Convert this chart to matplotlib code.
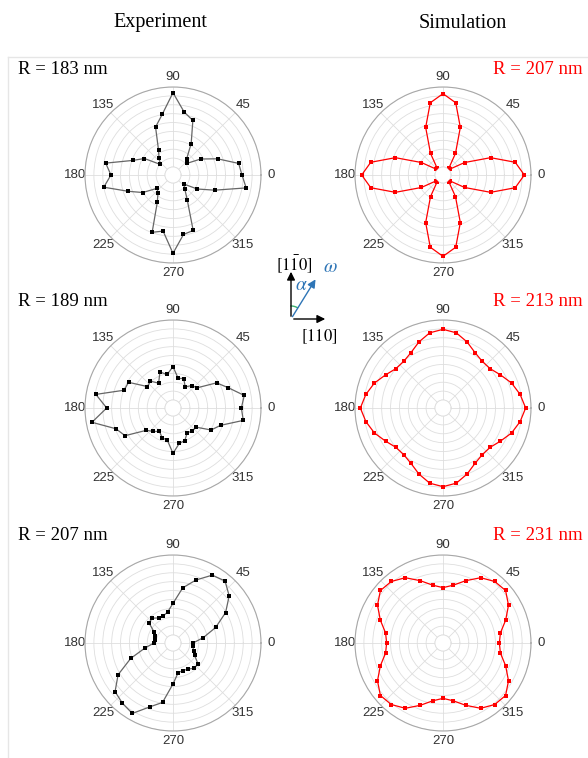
#! /usr/bin/env python3

#Polar plots of experiment vs simulation for three disk radii
import numpy as np
import matplotlib
matplotlib.use("Agg")
import matplotlib.pyplot as plt

plt.rcParams['font.family'] = ['Liberation Serif', 'DejaVu Serif']
plt.rcParams['mathtext.fontset'] = 'stix'

#Data: angle in degrees, intensity in arbitrary units (0 = inner edge, 9 = outer ring)
angles = np.arange(0, 360, 10)
theta_labels = ['0', '45', '90', '135', '180', '225', '270', '315']

exp_183 = [6.86, 6.60, 4.43, 2.70, 1.13, 1.50, 3.19, 5.63, 6.30, 8.36,
           6.04, 4.84, 2.36, 1.54, 0.94, 2.81, 3.90, 6.79, 6.08, 7.01,
           4.46, 3.04, 1.43, 1.73, 2.63, 5.96, 5.51, 7.91, 5.89, 5.74,
           2.29, 1.16, 0.68, 2.25, 4.09, 7.46]
sim_207 = [8.25, 7.35, 4.80, 1.91, 0.15, 0.15, 1.91, 4.80, 7.35,
           8.25, 7.35, 4.80, 1.91, 0.15, 0.15, 1.91, 4.80, 7.35,
           8.25, 7.35, 4.80, 1.91, 0.15, 0.15, 1.91, 4.80, 7.35,
           8.25, 7.35, 4.80, 1.91, 0.15, 0.15, 1.91, 4.80, 7.35]
exp_189 = [6.79, 7.24, 5.74, 4.76, 2.63, 2.40, 1.84, 2.63, 2.48, 3.75,
           2.93, 3.41, 2.33, 3.04, 2.85, 4.88, 4.95, 7.91, 6.56, 8.36,
           5.93, 5.33, 3.00, 2.55, 2.14, 2.66, 2.78, 4.20, 3.15, 3.00,
           2.29, 2.51, 2.44, 4.05, 4.80, 7.13]
sim_213 = [8.40, 7.91, 7.31, 6.56, 6.00, 5.96, 6.30, 7.01, 7.69,
           7.95, 7.69, 7.01, 6.30, 5.96, 6.00, 6.56, 7.31, 7.91,
           8.40, 7.91, 7.31, 6.56, 6.00, 5.96, 6.30, 7.01, 7.69,
           7.95, 7.69, 7.01, 6.30, 5.96, 6.00, 6.56, 7.31, 7.91]
exp_207 = [1.35, 2.55, 4.20, 5.93, 7.35, 8.21, 7.91, 6.64, 5.40, 3.56,
           2.63, 2.33, 2.36, 2.74, 2.63, 1.54, 1.24, 1.16, 1.24, 2.29,
           4.16, 6.23, 7.61, 7.95, 8.25, 6.75, 5.89, 3.71, 2.48, 2.40,
           2.48, 2.81, 2.78, 1.91, 1.58, 1.35]
sim_231 = [5.44, 5.66, 6.60, 7.61, 8.29, 8.14, 7.58, 6.56, 5.70,
           5.33, 5.70, 6.56, 7.58, 8.14, 8.29, 7.61, 6.60, 5.66,
           5.44, 5.66, 6.60, 7.61, 8.29, 8.14, 7.58, 6.56, 5.70,
           5.33, 5.70, 6.56, 7.58, 8.14, 8.29, 7.61, 6.60, 5.66]

W, H = 588, 758
fig = plt.figure(figsize=(W / 100, H / 100), dpi=100)

#Draws one polar panel centred at (cx, cy) in pixels
def polar_panel(cx, cy, values, marker_color, line_color):
    rad = 88
    ax = fig.add_axes([(cx - rad) / W, 1 - (cy + rad) / H, 2 * rad / W, 2 * rad / H],
                      projection='polar')
    th = np.deg2rad(np.append(angles, angles[0]))
    r = np.append(values, values[0])
    ax.plot(th, r, color=line_color, lw=0.9, marker='s', ms=2.9, mew=0,
            mfc=marker_color, mec=marker_color, zorder=3)
    ax.set_ylim(0, 9)
    ax.set_rorigin(-0.9)
    ax.set_rticks(np.arange(0, 10, 1))
    ax.set_yticklabels([])
    ax.set_thetagrids(range(0, 360, 45), labels=theta_labels,
                      fontsize=9.5, color='#333333', family='Liberation Sans')
    ax.tick_params(axis='x', pad=-3)
    ax.grid(color='#dedede', lw=0.6)
    ax.spines['polar'].set_color('#a8a8a8')
    ax.spines['polar'].set_linewidth(0.8)
    ax.spines['inner'].set_color('#dedede')
    ax.spines['inner'].set_linewidth(0.6)
    return ax

polar_panel(173, 175, exp_183, 'black', '#666666')
polar_panel(443, 175, sim_207, 'red', 'red')
polar_panel(173, 408, exp_189, 'black', '#666666')
polar_panel(443, 408, sim_213, 'red', 'red')
polar_panel(173, 643, exp_207, 'black', '#666666')
polar_panel(443, 643, sim_231, 'red', 'red')

#Overlay in pixel coordinates for texts and the crystal axis sketch
ov = fig.add_axes([0, 0, 1, 1], facecolor='none')
ov.set_xlim(0, W)
ov.set_ylim(H, 0)
ov.axis('off')

ov.plot([8, W], [57, 57], color='#e6e6e6', lw=1)
ov.plot([8, 8], [57, H], color='#e6e6e6', lw=1)

ov.text(160, 23, 'Experiment', fontsize=14.5, ha='center', va='center')
ov.text(463, 23, 'Simulation', fontsize=14.5, ha='center', va='center')

ov.text(18, 70, 'R = 183 nm', fontsize=13.5, ha='left', va='center')
ov.text(18, 301, 'R = 189 nm', fontsize=13.5, ha='left', va='center')
ov.text(18, 535, 'R = 207 nm', fontsize=13.5, ha='left', va='center')
ov.text(583, 70, 'R = 207 nm', fontsize=13.5, ha='right', va='center', color='red')
ov.text(583, 301, 'R = 213 nm', fontsize=13.5, ha='right', va='center', color='red')
ov.text(583, 535, 'R = 231 nm', fontsize=13.5, ha='right', va='center', color='red')

#Crystal axes sketch
ox, oy = 291, 319
ov.annotate('', xy=(ox, 269), xytext=(ox, oy),
            arrowprops=dict(arrowstyle='-|>', color='black', lw=1, mutation_scale=12))
ov.annotate('', xy=(328, oy), xytext=(ox, oy),
            arrowprops=dict(arrowstyle='-|>', color='black', lw=1, mutation_scale=12))
ov.annotate('', xy=(317, 277), xytext=(ox, oy),
            arrowprops=dict(arrowstyle='-|>', color='#2e75b6', lw=1, mutation_scale=12))
arc = np.deg2rad(np.linspace(60, 90, 20))
ov.plot(ox + 13 * np.cos(arc), oy - 13 * np.sin(arc), color='#3cb371', lw=1)
ov.text(294, 264, r'$[1\bar{1}0]$', fontsize=12, ha='center', va='center')
ov.text(319, 337, r'$[110]$', fontsize=12, ha='center', va='center')
ov.text(301, 286, r'$\alpha$', fontsize=14, ha='center', va='center', color='#2e75b6')
ov.text(330, 268, r'$\omega$', fontsize=14, ha='center', va='center', color='#2e75b6')

fig.savefig('out.png', dpi=100)
